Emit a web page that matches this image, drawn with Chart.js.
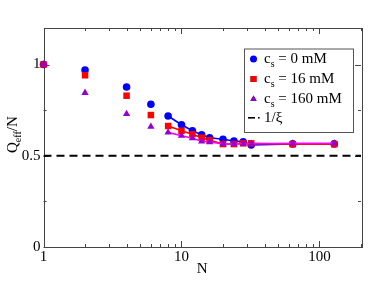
<!DOCTYPE html>
<html>
<head>
<meta charset="utf-8">
<script src="https://cdn.jsdelivr.net/npm/chart.js@4.4.0/dist/chart.umd.min.js"></script>
<style>
  html, body { margin: 0; padding: 0; background: #fff; }
  #wrap { width: 374px; height: 289px; position: relative; }
</style>
</head>
<body>
<div id="wrap"><canvas id="chart"></canvas></div>
<script>
// ── Data ──
const nValues = [1, 2, 4, 6, 8, 10, 12, 14, 16, 20, 24, 28, 32, 64, 128];
const cs0     = [1.0, 0.970, 0.877, 0.782, 0.718, 0.670, 0.637, 0.615, 0.599, 0.590, 0.581, 0.577, 0.559, 0.565, 0.565];
const cs16    = [1.0, 0.941, 0.829, 0.723, 0.663, 0.637, 0.618, 0.599, 0.585, 0.564, 0.564, 0.568, 0.568, 0.563, 0.563];
const cs160   = [1.0, 0.845, 0.729, 0.659, 0.628, 0.610, 0.596, 0.579, 0.575, 0.564, 0.564, 0.566, 0.566, 0.568, 0.568];
const xiRange = [1, 200];
const xiValue = 0.5;

const xLabels = [1, 10, 100];
const yLabels = [0, 0.5, 1];
const yMinor  = [0.25, 0.75];

const FONT = '"Liberation Serif", "DejaVu Serif", serif';

const toPoints = ys => ys.map((y, i) => ({ x: nValues[i], y }));
// line only joins points from N = 8 on
const lineFrom8 = color => ({ borderColor: c => c.p0.parsed.x < 8 ? 'transparent' : color });

// ── Frame, inward ticks, titles, legend ──
const decorPlugin = {
  id: 'decor',
  beforeDatasetsDraw(chart) {
    const { ctx, chartArea: a, scales: { x, y } } = chart;
    ctx.save();
    ctx.strokeStyle = '#444';
    ctx.lineWidth = 1;
    ctx.strokeRect(Math.round(a.left) + 0.5, Math.round(a.top) + 0.5,
                   Math.round(a.right - a.left), Math.round(a.bottom - a.top));

    const tick = (x1, y1, x2, y2) => {
      ctx.beginPath(); ctx.moveTo(x1, y1); ctx.lineTo(x2, y2); ctx.stroke();
    };
    // x ticks (bottom + top)
    for (let d = 1; d <= 100; d *= 10) {
      for (let m = 1; m <= 9; m++) {
        const v = d * m;
        if (v > 200) break;
        const px = Math.round(x.getPixelForValue(v)) + 0.5;
        const len = m === 1 ? 6 : 3;
        tick(px, a.bottom, px, a.bottom - len);
        tick(px, a.top, px, a.top + len);
      }
    }
    // y ticks (left + right)
    [...yLabels, ...yMinor].forEach(v => {
      const py = Math.round(y.getPixelForValue(v)) + 0.5;
      const len = yLabels.includes(v) ? 6 : 3;
      tick(a.left, py, a.left + len, py);
      tick(a.right, py, a.right - len, py);
    });
    ctx.restore();
  },
  afterDraw(chart) {
    const { ctx, chartArea: a } = chart;
    ctx.save();
    ctx.fillStyle = '#000';
    ctx.textBaseline = 'alphabetic';

    // x title
    ctx.font = '15px ' + FONT;
    ctx.textAlign = 'center';
    ctx.fillText('N', (a.left + a.right) / 2, 273);

    // y title  Q_eff/N
    ctx.save();
    ctx.translate(17, 153);
    ctx.rotate(-Math.PI / 2);
    ctx.textAlign = 'left';
    ctx.font = '15px ' + FONT;
    ctx.fillText('Q', 0, 0);
    let w = ctx.measureText('Q').width;
    ctx.font = '10px ' + FONT;
    ctx.fillText('eff', w, 4);
    w += ctx.measureText('eff').width;
    ctx.font = '15px ' + FONT;
    ctx.fillText('/N', w, 0);
    ctx.restore();

    // legend
    const bx = 244, by = 48.5, bw = 109, bh = 83.5;
    ctx.fillStyle = '#fff';
    ctx.fillRect(bx, by, bw, bh);
    ctx.strokeStyle = '#555';
    ctx.lineWidth = 1;
    ctx.strokeRect(bx + 0.5, by + 0.5, bw, bh);

    const entries = [
      { label: '0 mM',   style: 'circle',   color: '#0000ff', r: 3.5 },
      { label: '16 mM',  style: 'rect',     color: '#ff0000', r: 4.2 },
      { label: '160 mM', style: 'triangle', color: '#9400d3', r: 3.6 },
    ];
    const symX = 253.5, txtX = 264;
    entries.forEach((e, i) => {
      const base = 63 + i * 20;
      Chart.helpers.drawPoint(ctx, {
        pointStyle: e.style, radius: e.r, rotation: 0, borderWidth: 0
      }, symX, base - 4);
      ctx.fillStyle = e.color;
      ctx.fill();
      ctx.fillStyle = '#000';
      ctx.textAlign = 'left';
      ctx.font = '15px ' + FONT;
      ctx.fillText('c', txtX, base);
      const cw = ctx.measureText('c').width;
      ctx.font = '10px ' + FONT;
      ctx.fillText('s', txtX + cw, base + 4);
      const sw = ctx.measureText('s').width;
      ctx.font = '15px ' + FONT;
      ctx.fillText(' = ' + e.label, txtX + cw + sw, base);
    });
    // 1/xi entry
    const b4 = 122;
    ctx.fillRect(248, b4 - 5, 7, 1.6);
    ctx.fillRect(258, b4 - 5, 1.6, 1.6);
    ctx.font = '15px ' + FONT;
    ctx.fillText('1/ξ', txtX, b4);
    ctx.restore();
  }
};

new Chart(document.getElementById('chart'), {
  type: 'line',
  data: {
    datasets: [
      {
        label: 'c_s = 0 mM', data: toPoints(cs0), order: 3,
        borderColor: '#0000ff', backgroundColor: '#0000ff', borderWidth: 1.6,
        pointStyle: 'circle', pointRadius: 3.8, pointBorderWidth: 0,
        segment: lineFrom8('#0000ff'), clip: false,
      },
      {
        label: 'c_s = 16 mM', data: toPoints(cs16), order: 2,
        borderColor: '#ff0000', backgroundColor: '#ff0000', borderWidth: 1.6,
        pointStyle: 'rect', pointRadius: 4.6, pointBorderWidth: 0,
        segment: lineFrom8('#ff0000'), clip: false,
      },
      {
        label: 'c_s = 160 mM', data: toPoints(cs160), order: 1,
        borderColor: '#ff00ff', backgroundColor: '#9400d3', borderWidth: 1.6,
        pointStyle: 'triangle', pointRadius: 4.2, pointBorderWidth: 0,
        segment: lineFrom8('#ff00ff'), clip: false,
      },
      {
        label: '1/ξ', data: xiRange.map(x => ({ x, y: xiValue })), order: 4,
        borderColor: '#000', borderWidth: 2, borderDash: [8, 5],
        pointRadius: 0,
      },
    ],
  },
  options: {
    responsive: true,
    maintainAspectRatio: false,
    animation: false,
    layout: { padding: { left: 0, right: 13, top: 28, bottom: 0 } },
    plugins: { legend: { display: false }, tooltip: { enabled: false } },
    scales: {
      x: {
        type: 'logarithmic', min: 1, max: 200,
        grid: { display: false, drawTicks: false },
        border: { display: false },
        afterBuildTicks: s => { s.ticks = xLabels.map(v => ({ value: v })); },
        afterFit: s => { s.height = 42; },
        ticks: {
          color: '#000', padding: 1, maxRotation: 0, autoSkip: false,
          font: { family: FONT, size: 15 },
          callback: v => String(v),
        },
      },
      y: {
        type: 'linear', min: 0, max: 1.2,
        grid: { display: false, drawTicks: false },
        border: { display: false },
        afterBuildTicks: s => { s.ticks = yLabels.map(v => ({ value: v })); },
        afterFit: s => { s.width = 43.5; },
        ticks: {
          color: '#000', padding: 3,
          font: { family: FONT, size: 15 },
          callback: v => String(v),
        },
      },
    },
  },
  plugins: [decorPlugin],
});
</script>
</body>
</html>
